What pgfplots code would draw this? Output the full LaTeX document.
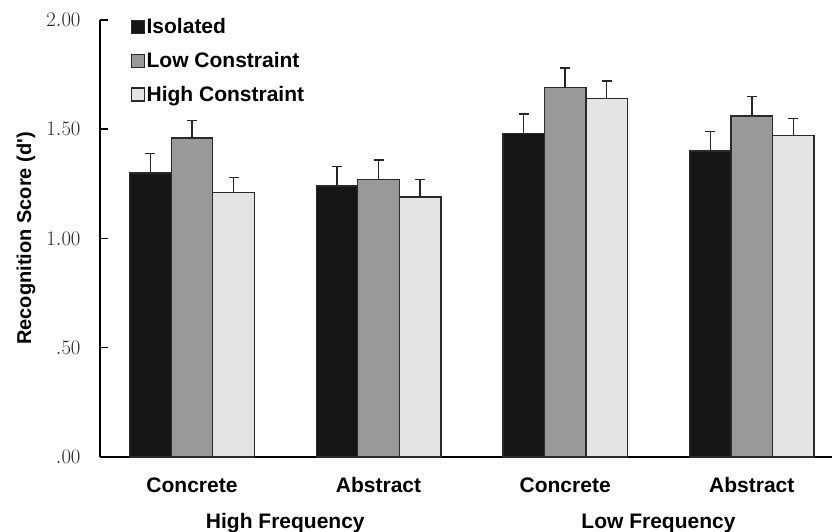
\documentclass[border=0pt]{standalone}
\usepackage{pgfplots}
\pgfplotsset{compat=1.18}
\usepackage{pgfplotstable}
\usepackage{fontspec}
\setmainfont{Liberation Sans}[Ligatures=TeXOff]
\definecolor{cIso}{HTML}{161616}
\definecolor{cLow}{HTML}{999999}
\definecolor{cHigh}{HTML}{E3E4E3}
\definecolor{cEdge}{HTML}{2A2A2A}

\pgfplotstableread{
x y e
0 1.30 0.09
1 1.24 0.09
2 1.48 0.09
3 1.40 0.09
}\isolated
\pgfplotstableread{
x y e
0 1.46 0.08
1 1.27 0.09
2 1.69 0.09
3 1.56 0.09
}\lowc
\pgfplotstableread{
x y e
0 1.21 0.07
1 1.19 0.08
2 1.64 0.08
3 1.47 0.08
}\highc

\pgfplotsset{
  sqleg/.style={legend image code/.code={\draw[##1,line width=1.2bp] (0bp,-6.5bp) rectangle (13bp,6.5bp);}},
}

\begin{document}
\begin{tikzpicture}
\begin{axis}[
  name=ax,
  at={(0,0)}, anchor=south west,
  width=732bp, height=437bp, scale only axis,
  xmin=-0.493, xmax=3.43,
  ymin=0, ymax=2,
  axis x line*=bottom, axis y line*=left,
  axis line style={line width=2.5bp, black, -},
  ybar=0pt, bar width=0.2225,
  xtick={0,1,2,3},
  xticklabels={Concrete,Abstract,Concrete,Abstract},
  xtick style={draw=none},
  xticklabel style={font=\fontsize{21bp}{25bp}\selectfont\bfseries, yshift=-17bp},
  ytick={0,0.5,1,1.5,2},
  yticklabels={$.00$,$.50$,$1.00$,$1.50$,$2.00$},
  yticklabel style={font=\fontsize{21bp}{25bp}\selectfont, color=black!85, xshift=-16bp},
  ytick style={line width=1.5bp, black},
  tick align=inside, major tick length=8bp,
  ylabel={Recognition Score (d')},
  every axis y label/.style={at={(axis description cs:0,0.5)}, rotate=90, anchor=center, yshift=74bp,
    font=\fontsize{20bp}{24bp}\selectfont\bfseries},
  clip=false,
  legend style={at={(axis description cs:0.042,1.007)}, anchor=north west, draw=none, fill=none,
    font=\fontsize{21bp}{25bp}\selectfont\bfseries, row sep=14bp, inner sep=0pt,
    nodes={inner sep=1.5bp}},
  legend cell align=left,
  legend style={/tikz/every odd column/.append style={inner xsep=5.5bp}},
  error bars/y dir=plus, error bars/y explicit,
  error bars/error bar style={line width=1.5bp, black!85},
  error bars/error mark options={line width=1.5bp, mark size=5bp, rotate=90},
]
\addplot[fill=cIso, draw=cEdge, line width=1.3bp, sqleg] table[x=x, y=y, y error=e] {\isolated};
\addplot[fill=cLow, draw=cEdge, line width=1.3bp, sqleg] table[x=x, y=y, y error=e] {\lowc};
\addplot[fill=cHigh, draw=cEdge, line width=1.3bp, sqleg] table[x=x, y=y, y error=e] {\highc};
\legend{Isolated, Low Constraint, High Constraint}
\node[font=\fontsize{21bp}{25bp}\selectfont\bfseries] at (axis cs:0.5,0) [yshift=-66bp] {High Frequency};
\node[font=\fontsize{21bp}{25bp}\selectfont\bfseries] at (axis cs:2.5,0) [yshift=-66bp] {Low Frequency};
\end{axis}
\pgfresetboundingbox
\path (ax.south west) ++(-100bp,-75bp) rectangle ++(832bp,532bp);
\end{tikzpicture}
\end{document}
